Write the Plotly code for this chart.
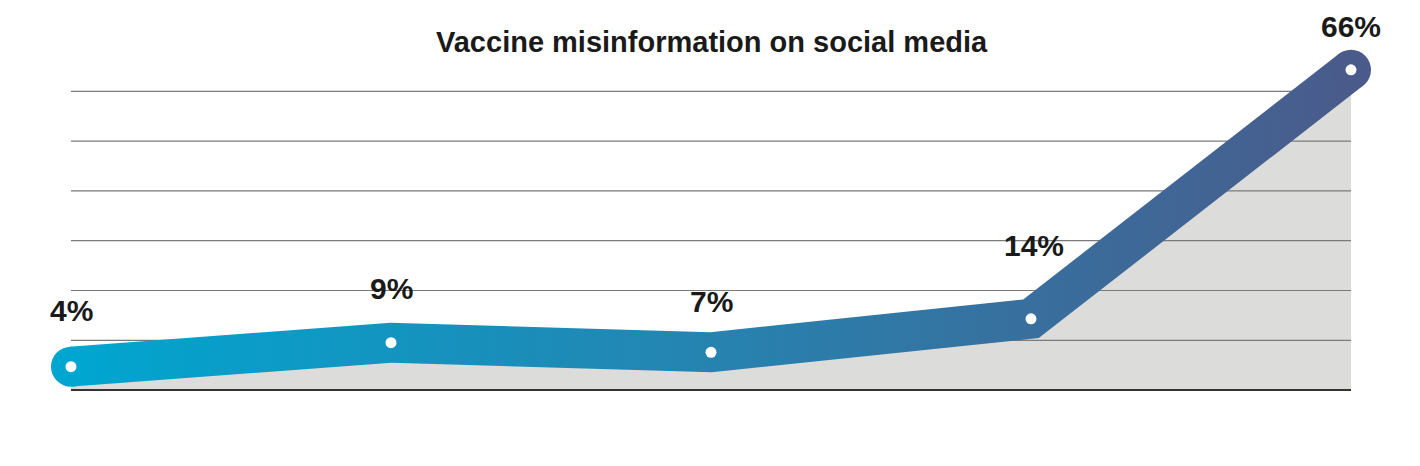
import numpy as np
import plotly.graph_objects as go

# ---- data ----
categories = ["P1", "P2", "P3", "P4", "P5"]
values = [4, 9, 7, 14, 66]
labels = ["4%", "9%", "7%", "14%", "66%"]
grid_vals = [9.5, 19.9, 30.3, 40.7, 51.1, 61.5]
base_val = -0.9

# ---- style ----
W, H = 1420, 466
PAGE_OFF = 8  # body margin of the html page
sx = 320.0
sy = 4.788
xr = [-(71 - PAGE_OFF) / sx, -(71 - PAGE_OFF) / sx + W / sx]
y_top_val = (385.8 - PAGE_OFF) / sy
yr = [y_top_val - H / sy, y_top_val]
c_start, c_end = "#00A6D0", "#4A5B8B"
band_half = 20  # px
label_yshift = [56, 54, 51, 73, 43]
label_xshift = [0, 0, 0, 3, 0]
font_fam = "Liberation Sans, Arial, sans-serif"

xs = np.arange(len(values), dtype=float)
ys = np.array(values, dtype=float)

# build thick band polygon (miter joins) in pixel space then back to data
P = np.column_stack([xs * sx, ys * sy])
n = len(P)
normals = []
for i in range(n - 1):
    d = P[i + 1] - P[i]
    d = d / np.linalg.norm(d)
    normals.append(np.array([-d[1], d[0]]))
offs = []
for i in range(n):
    if i == 0:
        m = normals[0] * band_half
    elif i == n - 1:
        m = normals[-1] * band_half
    else:
        a = normals[i - 1] + normals[i]
        a = a / np.linalg.norm(a)
        m = a * band_half / float(np.dot(a, normals[i]))
    offs.append(m)
offs = np.array(offs)
top = P + offs
bot = P - offs
poly = np.vstack([top, bot[::-1], top[:1]])
poly_x = poly[:, 0] / sx
poly_y = poly[:, 1] / sy

fig = go.Figure()

# grey area (shape below gridlines)
path = f"M {xs[0]},{base_val} " + " ".join(f"L {x},{y}" for x, y in zip(xs, ys)) + f" L {xs[-1]},{base_val} Z"
fig.add_shape(type="path", path=path, xref="x", yref="y", fillcolor="#DCDCDA",
              line=dict(width=0), layer="below")
for g in grid_vals:
    fig.add_shape(type="line", x0=xs[0], x1=xs[-1], y0=g, y1=g, xref="x", yref="y",
                  line=dict(color="#7a7a7a", width=1.2), layer="below")
fig.add_shape(type="line", x0=xs[0], x1=xs[-1], y0=base_val, y1=base_val, xref="x", yref="y",
              line=dict(color="#333333", width=2), layer="below")

# gradient band
fig.add_trace(go.Scatter(
    x=poly_x, y=poly_y, mode="lines", fill="toself",
    line=dict(width=0, color="rgba(0,0,0,0)"),
    fillgradient=dict(type="horizontal", start=xs[0], stop=xs[-1],
                      colorscale=[[0, c_start], [0.5, "#2683B0"], [1, c_end]]),
    hoverinfo="skip", showlegend=False))

# rounded end caps
fig.add_trace(go.Scatter(
    x=[xs[0], xs[-1]], y=[ys[0], ys[-1]], mode="markers",
    marker=dict(size=band_half * 2, color=[c_start, c_end], line=dict(width=0)),
    cliponaxis=False, hoverinfo="skip", showlegend=False))

# white dots
fig.add_trace(go.Scatter(
    x=xs, y=ys, mode="markers",
    marker=dict(size=11, color="white", line=dict(width=0)),
    cliponaxis=False, showlegend=False,
    customdata=categories, hovertemplate="%{customdata}: %{y}%<extra></extra>"))

for i, (x, y, t) in enumerate(zip(xs, ys, labels)):
    fig.add_annotation(x=x, y=y, text=f"<b>{t}</b>", showarrow=False,
                       yshift=label_yshift[i], xshift=label_xshift[i],
                       font=dict(family=font_fam, size=30, color="#1a1a1a"))

fig.add_annotation(xref="paper", yref="paper", x=(712 - PAGE_OFF) / W, y=1 - (42 - PAGE_OFF) / H,
                   text="<b>Vaccine misinformation on social media</b>", showarrow=False,
                   xanchor="center", yanchor="middle",
                   font=dict(family=font_fam, size=29, color="#1a1a1a"))

fig.update_layout(
    width=W, height=H, margin=dict(l=0, r=0, t=0, b=0),
    paper_bgcolor="white", plot_bgcolor="white",
    xaxis=dict(range=xr, visible=False, fixedrange=True),
    yaxis=dict(range=yr, visible=False, fixedrange=True),
    showlegend=False,
)

fig.write_html("out.html")
